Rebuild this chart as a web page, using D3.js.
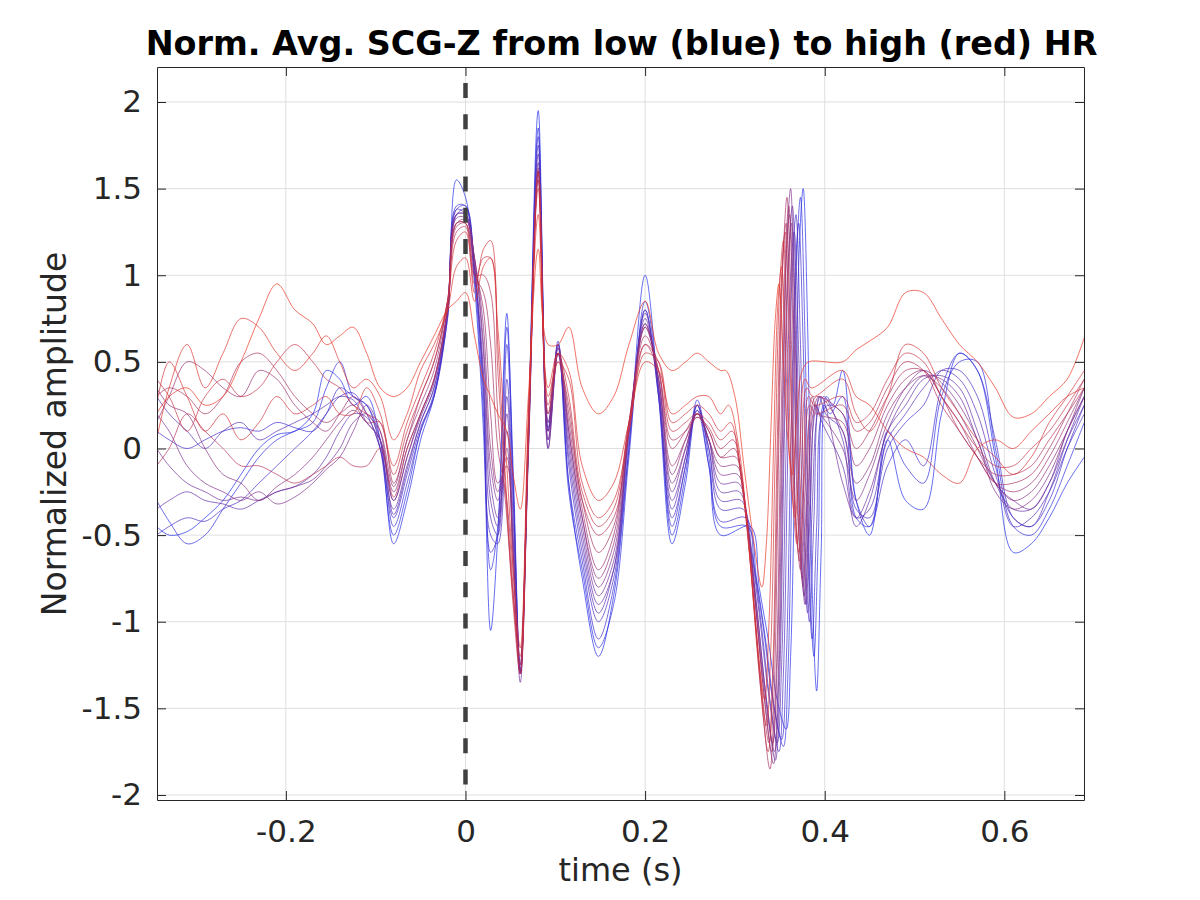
<!DOCTYPE html>
<html><head><meta charset="utf-8">
<script src="https://cdn.jsdelivr.net/npm/d3@7"></script>
<style>body{margin:0;background:#fff} svg{display:block}</style>
</head><body><svg id="c" width="1200" height="900"></svg>
<script>
// ---- data ----
const xTicks = [-0.2, 0, 0.2, 0.4, 0.6];
const xTickLabels = ["-0.2", "0", "0.2", "0.4", "0.6"];
const yTicks = [-2, -1.5, -1, -0.5, 0, 0.5, 1, 1.5, 2];
const yTickLabels = ["-2", "-1.5", "-1", "-0.5", "0", "0.5", "1", "1.5", "2"];

// shared sample times before the second heart sound
const timePre = [-0.344, -0.33, -0.31, -0.29, -0.27, -0.25, -0.23, -0.21, -0.19, -0.17, -0.155, -0.14, -0.125, -0.11,
  -0.095, -0.08, -0.065, -0.05, -0.035, -0.02, -0.01, 0, 0.01, 0.02, 0.028, 0.036, 0.046, 0.053, 0.061, 0.07, 0.081, 0.092, 0.103, 0.115,
  0.13, 0.148, 0.165, 0.182, 0.2, 0.215, 0.23, 0.245, 0.258, 0.271, 0.284];
// shared sample times after the second heart sound
const timePost = [0.42, 0.435, 0.45, 0.47, 0.49, 0.51, 0.53, 0.55, 0.57, 0.59, 0.61, 0.63, 0.65, 0.67, 0.689];

// curves ordered from low HR (blue, index 0) to high HR (red, last)
const baseVals = [
  [-0.45, -0.5, -0.48, -0.4, -0.3, -0.15, 0.0, 0.08, 0.1, 0.2, 0.45, 0.4, 0.25, 0.3],
  [-0.3, -0.42, -0.55, -0.5, -0.35, -0.2, -0.05, 0.05, 0.1, 0.15, 0.35, 0.5, 0.3, 0.25],
  [0.1, 0.05, 0.0, 0.05, 0.1, 0.12, 0.1, 0.15, 0.12, 0.1, 0.2, 0.35, 0.3, 0.25],
  [-0.5, -0.45, -0.4, -0.42, -0.35, -0.3, -0.2, -0.1, 0.0, 0.1, 0.2, 0.3, 0.32, 0.2],
  [0.3, 0.2, 0.1, 0.0, 0.1, 0.15, 0.05, 0.1, 0.15, 0.2, 0.25, 0.3, 0.28, 0.15],
  [-0.35, -0.3, -0.25, -0.3, -0.32, -0.35, -0.3, -0.25, -0.22, -0.15, -0.05, 0.1, 0.2, 0.18],
  [0.0, -0.1, -0.2, -0.25, -0.3, -0.28, -0.3, -0.25, -0.22, -0.18, -0.1, 0.0, 0.15, 0.2],
  [0.2, 0.1, -0.1, -0.2, -0.25, -0.3, -0.25, -0.32, -0.28, -0.2, -0.12, -0.05, 0.1, 0.25],
  [0.35, 0.25, 0.2, 0.0, -0.15, -0.2, -0.3, -0.22, -0.15, -0.05, 0.05, 0.15, 0.22, 0.15],
  [0.15, 0.3, 0.5, 0.45, 0.35, 0.3, 0.45, 0.4, 0.25, 0.15, 0.1, 0.2, 0.3, 0.2],
  [0.3, 0.35, 0.3, 0.2, 0.3, 0.5, 0.55, 0.45, 0.3, 0.2, 0.15, 0.2, 0.25, 0.15],
  [-0.1, 0.0, 0.2, 0.1, 0.0, -0.1, -0.1, -0.15, -0.2, -0.15, -0.1, -0.05, -0.1, -0.1],
  [0.4, 0.3, 0.1, 0.3, 0.4, 0.3, 0.35, 0.5, 0.6, 0.5, 0.4, 0.35, 0.25, 0.2],
  [0.25, 0.5, 0.3, 0.1, 0.2, 0.05, 0.15, 0.3, 0.2, 0.25, 0.3, 0.2, 0.2, 0.35],
  [0.05, 0.35, 0.6, 0.35, 0.55, 0.75, 0.7, 0.55, 0.45, 0.55, 0.65, 0.5, 0.35, 0.4],
  [0.2, 0.3, 0.35, 0.25, 0.3, 0.5, 0.75, 0.95, 0.8, 0.72, 0.6, 0.65, 0.7, 0.55]
];
const qrsVals = [
  [0.05, -0.55, -0.3, 0.05, 0.3, 0.8, 1.55, 1.45, 0.95, 0.1, -1.05, -0.5, 0.78, -0.2, -1.3, 0.1, 1.95, 0.15, 0.6, -0.2],
  [0.0, -0.5, -0.25, 0.1, 0.32, 0.75, 1.4, 1.4, 1.0, 0.2, -0.7, -0.45, 0.7, -0.1, -1.3, 0.05, 1.85, 0.1, 0.62, -0.25],
  [0.05, -0.45, -0.2, 0.1, 0.3, 0.78, 1.38, 1.4, 1.05, 0.3, -0.6, -0.5, 0.6, -0.2, -1.25, 0.1, 1.8, 0.12, 0.58, -0.2],
  [0.0, -0.4, -0.15, 0.12, 0.3, 0.75, 1.35, 1.38, 1.05, 0.35, -0.5, -0.55, 0.4, -0.3, -1.3, 0.0, 1.75, 0.1, 0.6, -0.1],
  [0.05, -0.38, -0.12, 0.15, 0.35, 0.8, 1.38, 1.35, 1.0, 0.4, -0.4, -0.5, 0.3, -0.4, -1.28, 0.05, 1.7, 0.05, 0.55, -0.05],
  [0.0, -0.35, -0.1, 0.15, 0.35, 0.78, 1.35, 1.35, 1.05, 0.45, -0.3, -0.45, 0.2, -0.5, -1.3, 0.0, 1.65, 0.0, 0.55, 0.0],
  [0.05, -0.3, -0.05, 0.18, 0.38, 0.8, 1.35, 1.35, 1.1, 0.55, -0.2, -0.4, 0.1, -0.55, -1.35, -0.05, 1.6, 0.0, 0.58, 0.05],
  [0.1, -0.3, -0.05, 0.2, 0.4, 0.82, 1.33, 1.33, 1.1, 0.6, -0.1, -0.3, 0.0, -0.6, -1.3, 0.0, 1.6, 0.05, 0.55, 0.1],
  [0.05, -0.25, 0.0, 0.2, 0.4, 0.8, 1.3, 1.32, 1.1, 0.7, 0.0, -0.25, -0.05, -0.6, -1.3, 0.05, 1.62, 0.1, 0.6, 0.1],
  [0.1, -0.22, 0.05, 0.25, 0.45, 0.85, 1.3, 1.3, 1.05, 0.8, 0.2, -0.2, -0.1, -0.7, -1.25, 0.1, 1.55, 0.15, 0.55, 0.15],
  [0.15, -0.2, 0.05, 0.3, 0.5, 0.85, 1.28, 1.3, 1.0, 0.9, 0.6, 0.0, -0.3, -0.8, -1.3, 0.0, 1.6, 0.2, 0.55, 0.2],
  [0.0, -0.28, 0.0, 0.2, 0.4, 0.8, 1.25, 1.28, 1.0, 1.0, 0.9, 0.2, -0.4, -0.85, -1.25, 0.1, 1.55, 0.2, 0.5, 0.25],
  [0.15, -0.15, 0.1, 0.3, 0.5, 0.85, 1.3, 1.3, 0.95, 1.1, 1.1, 0.45, -0.35, -0.9, -1.3, 0.05, 1.6, 0.25, 0.55, 0.3],
  [0.2, -0.1, 0.15, 0.35, 0.55, 0.85, 1.2, 1.25, 0.9, 1.15, 1.2, 0.6, -0.3, -0.85, -1.2, 0.15, 1.5, 0.3, 0.5, 0.4],
  [0.3, 0.05, 0.2, 0.45, 0.6, 0.8, 1.05, 1.1, 0.85, 1.05, 1.1, 0.7, -0.1, -0.7, -1.15, 0.2, 1.35, 0.35, 0.55, 0.45],
  [0.35, 0.3, 0.35, 0.5, 0.65, 0.8, 0.85, 0.9, 0.65, 0.4, 0.3, 0.2, 0.1, -0.15, -0.35, 0.3, 1.15, 0.6, 0.6, 0.7]
];
const midVals = [
  [-0.75, -1.2, -0.85, 0.0, 1.0, 0.3, -0.55, -0.2, 0.25, -0.1, -0.5],
  [-0.7, -1.15, -0.9, -0.05, 0.85, 0.35, -0.5, -0.15, 0.28, -0.05, -0.45],
  [-0.65, -1.1, -0.8, 0.0, 0.8, 0.3, -0.45, -0.1, 0.22, -0.1, -0.42],
  [-0.6, -1.0, -0.75, 0.05, 0.8, 0.3, -0.4, -0.1, 0.25, 0.0, -0.35],
  [-0.55, -0.95, -0.7, 0.1, 0.78, 0.35, -0.35, -0.05, 0.25, 0.0, -0.3],
  [-0.5, -0.9, -0.7, 0.1, 0.75, 0.35, -0.3, -0.05, 0.22, 0.05, -0.25],
  [-0.45, -0.85, -0.65, 0.1, 0.72, 0.4, -0.25, 0.0, 0.2, 0.05, -0.2],
  [-0.4, -0.8, -0.6, 0.1, 0.72, 0.4, -0.2, 0.0, 0.2, 0.05, -0.15],
  [-0.4, -0.75, -0.55, 0.12, 0.7, 0.4, -0.15, 0.05, 0.2, 0.05, -0.1],
  [-0.35, -0.7, -0.5, 0.15, 0.7, 0.45, -0.1, 0.05, 0.18, 0.1, -0.05],
  [-0.3, -0.6, -0.45, 0.15, 0.65, 0.45, 0.0, 0.1, 0.2, 0.1, -0.05],
  [-0.3, -0.5, -0.4, 0.1, 0.6, 0.45, 0.05, 0.1, 0.18, 0.12, 0.0],
  [-0.25, -0.45, -0.35, 0.15, 0.6, 0.5, 0.1, 0.15, 0.2, 0.15, 0.05],
  [-0.2, -0.4, -0.3, 0.1, 0.55, 0.5, 0.15, 0.2, 0.25, 0.2, 0.1],
  [-0.1, -0.3, -0.2, 0.15, 0.5, 0.45, 0.2, 0.25, 0.3, 0.3, 0.2],
  [0.35, 0.2, 0.3, 0.6, 0.85, 0.55, 0.45, 0.5, 0.55, 0.5, 0.45]
];
// second heart sound: each curve has its own sample times (it arrives earlier at high HR)
const s2Times = [
  [0.317, 0.327, 0.337, 0.347, 0.357, 0.362, 0.367, 0.372, 0.376, 0.381, 0.386, 0.391, 0.396, 0.402, 0.409],
  [0.314, 0.324, 0.334, 0.344, 0.354, 0.359, 0.364, 0.369, 0.373, 0.378, 0.383, 0.388, 0.393, 0.399, 0.406],
  [0.312, 0.322, 0.332, 0.342, 0.352, 0.357, 0.362, 0.367, 0.371, 0.376, 0.381, 0.386, 0.391, 0.397, 0.404],
  [0.309, 0.319, 0.329, 0.339, 0.349, 0.354, 0.359, 0.364, 0.368, 0.373, 0.378, 0.383, 0.388, 0.394, 0.401],
  [0.307, 0.317, 0.327, 0.337, 0.347, 0.352, 0.357, 0.362, 0.366, 0.371, 0.376, 0.381, 0.386, 0.392, 0.399],
  [0.305, 0.315, 0.325, 0.335, 0.345, 0.35, 0.355, 0.36, 0.364, 0.369, 0.374, 0.379, 0.384, 0.39, 0.397],
  [0.304, 0.314, 0.324, 0.334, 0.344, 0.349, 0.354, 0.359, 0.363, 0.368, 0.373, 0.378, 0.383, 0.389, 0.396],
  [0.303, 0.313, 0.323, 0.333, 0.343, 0.348, 0.353, 0.358, 0.362, 0.367, 0.372, 0.377, 0.382, 0.388, 0.395],
  [0.302, 0.312, 0.322, 0.332, 0.342, 0.347, 0.352, 0.357, 0.361, 0.366, 0.371, 0.376, 0.381, 0.387, 0.394],
  [0.301, 0.311, 0.321, 0.331, 0.341, 0.346, 0.351, 0.356, 0.36, 0.365, 0.37, 0.375, 0.38, 0.386, 0.393],
  [0.299, 0.309, 0.319, 0.329, 0.339, 0.344, 0.349, 0.354, 0.358, 0.363, 0.368, 0.373, 0.378, 0.384, 0.391],
  [0.298, 0.308, 0.318, 0.328, 0.338, 0.343, 0.348, 0.353, 0.357, 0.362, 0.367, 0.372, 0.377, 0.383, 0.39],
  [0.297, 0.307, 0.317, 0.327, 0.337, 0.342, 0.347, 0.352, 0.356, 0.361, 0.366, 0.371, 0.376, 0.382, 0.389],
  [0.295, 0.305, 0.315, 0.325, 0.335, 0.34, 0.345, 0.35, 0.354, 0.359, 0.364, 0.369, 0.374, 0.38, 0.387],
  [0.293, 0.303, 0.313, 0.323, 0.333, 0.338, 0.343, 0.348, 0.352, 0.357, 0.362, 0.367, 0.372, 0.378, 0.385],
  [0.29, 0.3, 0.31, 0.32, 0.33, 0.335, 0.34, 0.345, 0.349, 0.354, 0.359, 0.364, 0.369, 0.375, 0.382]
];
const s2Vals = [
  [-0.45, -0.8, -1.1, -1.45, -1.62, -1.2, 0.0, 1.2, 1.5, 0.7, -0.8, -1.4, -0.6, 0.3, 0.25],
  [-0.45, -0.75, -1.1, -1.5, -1.72, -1.3, 0.0, 1.15, 1.45, 0.65, -0.7, -1.2, -0.5, 0.25, 0.2],
  [-0.4, -0.7, -1.05, -1.45, -1.68, -1.25, -0.05, 1.0, 1.3, 0.6, -0.6, -1.1, -0.45, 0.2, 0.25],
  [-0.35, -0.6, -1.0, -1.45, -1.75, -1.3, 0.0, 1.05, 1.35, 0.6, -0.55, -1.0, -0.4, 0.3, 0.2],
  [-0.3, -0.55, -0.95, -1.4, -1.7, -1.25, 0.0, 1.0, 1.25, 0.55, -0.5, -0.95, -0.35, 0.2, 0.3],
  [-0.25, -0.5, -0.95, -1.45, -1.8, -1.3, 0.05, 1.1, 1.4, 0.6, -0.5, -0.9, -0.35, 0.25, 0.15],
  [-0.2, -0.45, -0.9, -1.4, -1.75, -1.3, 0.0, 1.05, 1.3, 0.55, -0.5, -0.9, -0.35, 0.2, 0.3],
  [-0.15, -0.4, -0.9, -1.45, -1.82, -1.35, 0.05, 1.2, 1.5, 0.65, -0.45, -0.85, -0.3, 0.25, 0.2],
  [-0.1, -0.35, -0.85, -1.35, -1.7, -1.25, 0.0, 1.1, 1.35, 0.6, -0.45, -0.8, -0.3, 0.2, 0.3],
  [-0.05, -0.3, -0.8, -1.35, -1.75, -1.3, 0.05, 1.1, 1.4, 0.6, -0.4, -0.75, -0.25, 0.3, 0.2],
  [0.0, -0.25, -0.75, -1.4, -1.85, -1.35, 0.05, 1.15, 1.45, 0.6, -0.4, -0.7, -0.25, 0.2, 0.3],
  [0.05, -0.2, -0.7, -1.3, -1.7, -1.25, 0.0, 1.05, 1.3, 0.55, -0.35, -0.65, -0.2, 0.25, 0.2],
  [0.1, -0.15, -0.65, -1.3, -1.75, -1.3, 0.0, 1.0, 1.25, 0.55, -0.3, -0.6, -0.2, 0.3, 0.25],
  [0.15, -0.1, -0.55, -1.15, -1.6, -1.15, 0.0, 0.95, 1.2, 0.5, -0.25, -0.55, -0.15, 0.35, 0.3],
  [0.25, 0.05, -0.4, -1.0, -1.45, -1.0, 0.0, 0.85, 1.05, 0.45, -0.15, -0.4, -0.05, 0.4, 0.35],
  [0.45, 0.3, -0.1, -0.5, -0.8, -0.55, 0.1, 0.75, 0.95, 0.5, 0.05, -0.15, 0.2, 0.45, 0.5]
];
const postVals = [
  [0.45, -0.3, -0.5, 0.05, -0.3, -0.35, 0.2, 0.55, 0.45, -0.05, -0.6, -0.55, -0.4, -0.2, -0.05],
  [0.3, -0.4, -0.45, 0.1, -0.1, -0.2, 0.3, 0.5, 0.5, 0.0, -0.45, -0.5, -0.35, -0.1, 0.15],
  [0.2, -0.3, -0.45, -0.1, 0.05, -0.1, 0.35, 0.55, 0.45, 0.05, -0.4, -0.45, -0.3, 0.0, 0.25],
  [0.1, -0.35, -0.4, 0.0, 0.15, 0.25, 0.45, 0.45, 0.3, -0.1, -0.45, -0.4, -0.25, 0.0, 0.2],
  [0.05, -0.4, -0.35, 0.05, 0.2, 0.35, 0.45, 0.4, 0.2, -0.15, -0.4, -0.45, -0.25, 0.05, 0.3],
  [-0.1, -0.45, -0.3, 0.1, 0.25, 0.4, 0.42, 0.35, 0.1, -0.2, -0.35, -0.35, -0.2, 0.05, 0.25],
  [-0.2, -0.4, -0.25, 0.1, 0.3, 0.42, 0.4, 0.3, 0.05, -0.2, -0.3, -0.35, -0.2, 0.1, 0.3],
  [0.0, -0.3, -0.15, 0.15, 0.35, 0.45, 0.38, 0.25, 0.05, -0.25, -0.35, -0.3, -0.15, 0.1, 0.35],
  [0.1, -0.2, -0.1, 0.2, 0.35, 0.42, 0.35, 0.2, 0.0, -0.2, -0.3, -0.25, -0.1, 0.1, 0.3],
  [0.15, -0.1, 0.0, 0.25, 0.4, 0.45, 0.3, 0.15, -0.05, -0.2, -0.25, -0.2, -0.05, 0.15, 0.35],
  [0.2, 0.0, 0.1, 0.3, 0.45, 0.45, 0.3, 0.1, -0.05, -0.2, -0.2, -0.15, 0.0, 0.2, 0.4],
  [0.25, 0.1, 0.15, 0.35, 0.5, 0.45, 0.25, 0.1, -0.05, -0.15, -0.15, -0.1, 0.05, 0.2, 0.35],
  [0.3, 0.15, 0.2, 0.4, 0.55, 0.5, 0.3, 0.15, 0.0, -0.1, -0.1, 0.0, 0.1, 0.25, 0.4],
  [0.4, 0.2, 0.1, 0.3, 0.6, 0.55, 0.35, 0.2, 0.05, -0.05, -0.15, -0.05, 0.15, 0.3, 0.45],
  [0.45, 0.3, 0.25, 0.1, 0.0, -0.05, -0.15, -0.2, 0.0, 0.05, 0.0, 0.1, 0.2, 0.3, 0.35],
  [0.5, 0.57, 0.62, 0.7, 0.9, 0.9, 0.75, 0.6, 0.5, 0.35, 0.18, 0.2, 0.3, 0.4, 0.64]
];

// ---- drawing ----
const svg = d3.select("#c");
const L = 157, R = 1084, T = 67, B = 800;
const x = d3.scaleLinear().domain([-0.3435, 0.6887]).range([L, R]);
const y = d3.scaleLinear().domain([-2.029, 2.202]).range([B, T]);
const FONT = "'DejaVu Sans', sans-serif";
const AX = "#262626";

svg.append("rect").attr("width", 1200).attr("height", 900).attr("fill", "#fff");
svg.append("defs").append("clipPath").attr("id", "clip")
  .append("rect").attr("x", L).attr("y", T).attr("width", R - L).attr("height", B - T);

// grid
const grid = svg.append("g").attr("stroke", "#dfdfdf").attr("stroke-width", 1);
grid.selectAll("line.v").data(xTicks).join("line").attr("class", "v")
  .attr("x1", d => x(d)).attr("x2", d => x(d)).attr("y1", T).attr("y2", B);
grid.selectAll("line.h").data(yTicks).join("line").attr("class", "h")
  .attr("x1", L).attr("x2", R).attr("y1", d => y(d)).attr("y2", d => y(d));

// curves
const n = baseVals.length;
const color = d3.interpolateRgb("rgb(30,40,235)", "rgb(235,50,30)");
const curves = d3.range(n).map(k => {
  const pre = baseVals[k].concat(qrsVals[k], midVals[k]);
  const pts = timePre.map((t, i) => [t, pre[i]]);
  s2Times[k].forEach((t, i) => pts.push([t, s2Vals[k][i]]));
  timePost.forEach((t, i) => pts.push([t, postVals[k][i]]));
  return pts;
});
const line = d3.line().x(d => x(d[0])).y(d => y(d[1])).curve(d3.curveCatmullRom.alpha(0.5));
svg.append("g").attr("clip-path", "url(#clip)")
  .selectAll("path").data(curves).join("path")
  .attr("d", line).attr("fill", "none")
  .attr("stroke", (d, i) => color(i / (n - 1)))
  .attr("stroke-opacity", 0.68).attr("stroke-width", 1);

// dashed line at t = 0
svg.append("path")
  .attr("d", `M${x(0)},${B}L${x(0)},${T}`)
  .attr("stroke", "#404040").attr("stroke-width", 4.5)
  .attr("stroke-dasharray", "15 16.2").attr("stroke-dashoffset", 15.6).attr("fill", "none");

// axes
function style(g) {
  g.select(".domain").attr("stroke", AX).attr("stroke-width", 1);
  g.selectAll(".tick line").attr("stroke", AX);
  g.selectAll("text").attr("fill", AX).style("font-family", FONT).style("font-size", "31px");
}
svg.append("g").attr("transform", `translate(0,${B})`)
  .call(d3.axisBottom(x).tickValues(xTicks).tickFormat((d, i) => xTickLabels[i]).tickSizeInner(-9).tickSizeOuter(0).tickPadding(20))
  .call(style).call(g => g.selectAll("text").attr("dy", "0.71em"));
svg.append("g").attr("transform", `translate(0,${T})`)
  .call(d3.axisTop(x).tickValues(xTicks).tickFormat("").tickSizeInner(-9).tickSizeOuter(0)).call(style);
svg.append("g").attr("transform", `translate(${L},0)`)
  .call(d3.axisLeft(y).tickValues(yTicks).tickFormat((d, i) => yTickLabels[i]).tickSizeInner(-9).tickSizeOuter(0).tickPadding(15))
  .call(style);
svg.append("g").attr("transform", `translate(${R},0)`)
  .call(d3.axisRight(y).tickValues(yTicks).tickFormat("").tickSizeInner(-9).tickSizeOuter(0)).call(style);

// labels
svg.append("text").attr("x", (L + R) / 2 + 1).attr("y", 55).attr("text-anchor", "middle")
  .style("font-family", FONT).style("font-size", "33.4px").style("font-weight", "bold").attr("fill", "#000")
  .text("Norm. Avg. SCG-Z from low (blue) to high (red) HR");
svg.append("text").attr("x", (L + R) / 2).attr("y", 881).attr("text-anchor", "middle")
  .style("font-family", FONT).style("font-size", "32px").attr("fill", AX).text("time (s)");
svg.append("text").attr("transform", "translate(66,434) rotate(-90)").attr("text-anchor", "middle")
  .style("font-family", FONT).style("font-size", "33px").attr("fill", AX).text("Normalized amplitude");
</script>
</body></html>
